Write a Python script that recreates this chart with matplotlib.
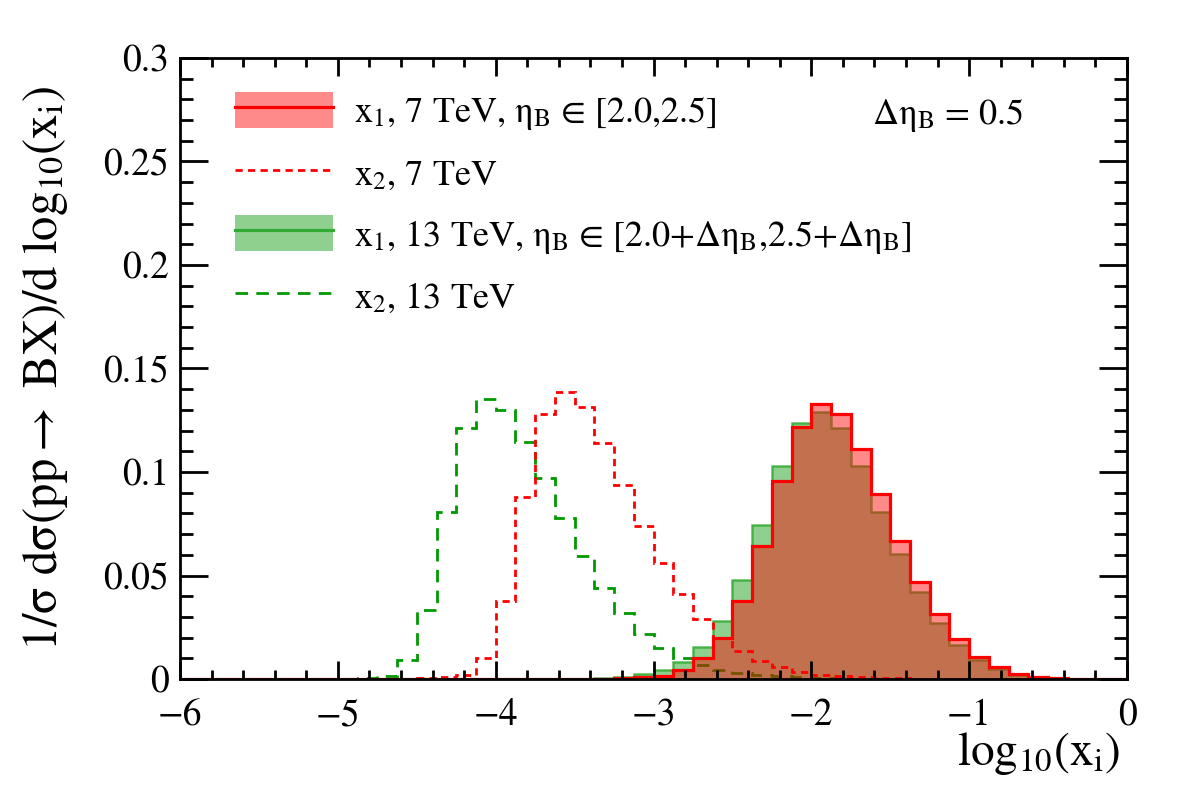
import numpy as np
import matplotlib
matplotlib.use("Agg")
import matplotlib.pyplot as plt
from matplotlib.patches import Patch
from matplotlib.lines import Line2D
from matplotlib.legend_handler import HandlerTuple

plt.rcParams.update({"font.family": "STIXGeneral", "mathtext.fontset": "stix"})

# 48 bins of width 0.125 in log10(x_i), from -6 to 0
edges = np.linspace(-6, 0, 49)

x1_7tev = [0]*21 + [0.0002, 0.0005, 0.0009,
    0.0014, 0.0043, 0.010, 0.020, 0.0378, 0.0644, 0.0957, 0.1219,
    0.1327, 0.1279, 0.1111, 0.0892, 0.0668, 0.0470, 0.0312, 0.0193,
    0.0108, 0.0056, 0.0024, 0.0011, 0.0005, 0.0002, 0.0001, 0.0]
x1_13tev = [0]*20 + [0.0002, 0.0005, 0.0012, 0.0022,
    0.0043, 0.0084, 0.0156, 0.0282, 0.0478, 0.0744, 0.1031, 0.1235,
    0.1291, 0.1211, 0.1030, 0.0808, 0.0604, 0.0419, 0.0269, 0.0164,
    0.0092, 0.0047, 0.0020, 0.0010, 0.0004, 0.0002, 0.0001, 0.0]
x2_7tev = [0]*10 + [0.0001, 0.0002, 0.0005, 0.0010, 0.0020, 0.0100,
    0.0377, 0.0878, 0.1280, 0.1388, 0.1312, 0.1142, 0.0937, 0.0741,
    0.0560, 0.0409, 0.0288, 0.0200, 0.0137, 0.0087, 0.0060, 0.0035,
    0.0020, 0.0013, 0.0010, 0.0007, 0.0004, 0.0002, 0.0001] + [0]*9
x2_13tev = [0]*8 + [0.0002, 0.0005, 0.0015, 0.0092,
    0.0333, 0.0805, 0.1214, 0.1351, 0.1299, 0.1146, 0.0969, 0.0776,
    0.0596, 0.0438, 0.0317, 0.0217, 0.0151, 0.0103, 0.0068, 0.0043,
    0.0027, 0.0020, 0.0014, 0.0010, 0.0006, 0.0003, 0.0001] + [0]*13

RED, GREEN_FILL, GREEN_DASH = "#ff0000", "#33aa33", "#009900"
DOT, DASH = (0, (2.6, 1.9)), (0, (4.5, 3.0))

fig = plt.figure(figsize=(11.82, 8.05), dpi=100)
ax = fig.add_axes([0.1523, 0.1565, 0.8012, 0.7715])

ax.stairs(x1_13tev, edges, fill=True, color=GREEN_FILL, alpha=0.55, lw=0)
ax.stairs(x1_13tev, edges, color=GREEN_FILL, lw=1.8, alpha=0.8)
ax.stairs(x2_13tev, edges, color=GREEN_DASH, lw=2.0, ls=DASH)
ax.stairs(x2_7tev, edges, color=RED, lw=2.0, ls=DOT)
ax.stairs(x1_7tev, edges, fill=True, color=RED, alpha=0.46, lw=0)
ax.stairs(x1_7tev, edges, color=RED, lw=2.3)

ax.set_xlim(-6, 0)
ax.set_ylim(0, 0.3)
ax.set_xticks(np.arange(-6, 0.5, 1))
ax.set_xticks(np.arange(-6, 0.01, 0.2), minor=True)
ax.set_yticks(np.arange(0, 0.31, 0.05))
ax.set_yticks(np.arange(0, 0.301, 0.01), minor=True)
ax.set_xticklabels(["\u22126", "\u22125", "\u22124", "\u22123", "\u22122", "\u22121", "0"])
ax.set_yticklabels(["0", "0.05", "0.1", "0.15", "0.2", "0.25", "0.3"])
ax.tick_params(axis="both", which="both", direction="in", top=True, right=True,
               labelsize=27, width=2.0)
ax.tick_params(axis="x", which="major", length=13, pad=14)
ax.tick_params(axis="x", which="minor", length=6.5)
ax.tick_params(axis="y", which="major", length=20, pad=8)
ax.tick_params(axis="y", which="minor", length=9.5)
for s in ax.spines.values():
    s.set_linewidth(2.0)

ax.set_ylabel(r"1/σ dσ(pp$\rightarrow$ BX)/d log$_{10}$(x$_{\mathrm{i}}$)", fontsize=35)
ax.yaxis.set_label_coords(-0.116, 0.5)
fig.text(0.948, 0.064, r"log$_{10}$(x$_{\mathrm{i}}$)", fontsize=34, ha="right", va="center")

ax.text(0.731, 0.907, r"Δη$_{\mathrm{B}}$ = 0.5", transform=ax.transAxes, fontsize=26,
        va="center")

h1 = (Patch(facecolor=RED, alpha=0.46, lw=0), Line2D([], [], color=RED, lw=2.3))
h2 = Line2D([], [], color=RED, lw=2.0, ls=DOT)
h3 = (Patch(facecolor=GREEN_FILL, alpha=0.55, lw=0), Line2D([], [], color=GREEN_FILL, lw=2.3))
h4 = Line2D([], [], color=GREEN_DASH, lw=2.0, ls=DASH)
labels = [r"x$_{1}$, 7 TeV, η$_{\mathrm{B}}$ ∈ [2.0,2.5]",
          r"x$_{2}$, 7 TeV",
          r"x$_{1}$, 13 TeV, η$_{\mathrm{B}}$ ∈ [2.0+Δη$_{\mathrm{B}}$,2.5+Δη$_{\mathrm{B}}$]",
          r"x$_{2}$, 13 TeV"]
ax.legend([h1, h2, h3, h4], labels, handler_map={tuple: HandlerTuple(ndivide=1, pad=0)},
          loc="upper left", bbox_to_anchor=(0.043, 0.968), frameon=False, fontsize=26,
          handlelength=2.7, handleheight=1.15, handletextpad=0.6, labelspacing=0.62,
          borderaxespad=0)

fig.savefig("out.png", dpi=100, facecolor="white")
